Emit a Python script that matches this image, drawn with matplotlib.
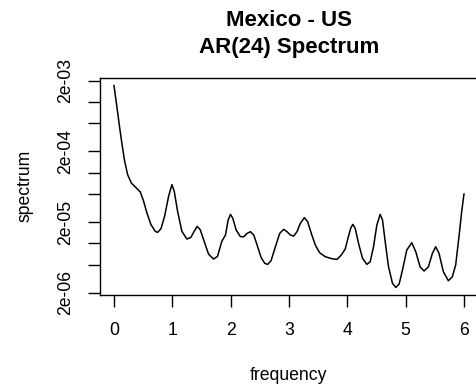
import numpy as np
import matplotlib
matplotlib.use("Agg")
import matplotlib.pyplot as plt

plt.rcParams['font.family'] = ['Liberation Sans', 'DejaVu Sans']

# AR(24) spectrum
freq = [0.000, 0.052, 0.098, 0.138, 0.183, 0.234, 0.297, 0.366, 0.451, 0.508,
        0.565, 0.634, 0.708, 0.748, 0.805, 0.867, 0.936, 0.993, 1.033, 1.090,
        1.164, 1.250, 1.318, 1.381, 1.426, 1.478, 1.546, 1.620, 1.706, 1.774,
        1.848, 1.911, 1.957, 1.997, 2.037, 2.094, 2.168, 2.225, 2.282, 2.339,
        2.396, 2.453, 2.521, 2.584, 2.635, 2.692, 2.767, 2.841, 2.909, 2.966,
        3.023, 3.080, 3.137, 3.194, 3.263, 3.320, 3.382, 3.451, 3.525, 3.622,
        3.736, 3.822, 3.896, 3.964, 4.010, 4.061, 4.095, 4.135, 4.192, 4.261,
        4.335, 4.392, 4.449, 4.506, 4.563, 4.603, 4.649, 4.706, 4.774, 4.831,
        4.888, 4.945, 5.019, 5.105, 5.173, 5.247, 5.316, 5.390, 5.458, 5.515,
        5.572, 5.646, 5.732, 5.800, 5.857, 5.914, 5.960, 6.000]
spec = [1.70e-3, 8.21e-4, 4.28e-4, 2.49e-4, 1.445e-4, 9.36e-5, 7.13e-5, 6.26e-5, 5.32e-5, 3.93e-5,
        2.68e-5, 1.835e-5, 1.477e-5, 1.429e-5, 1.611e-5, 2.41e-5, 4.62e-5, 6.76e-5, 5.44e-5, 2.835e-5,
        1.477e-5, 1.150e-5, 1.215e-5, 1.510e-5, 1.738e-5, 1.560e-5, 1.066e-5, 7.06e-6, 5.99e-6, 6.54e-6,
        1.066e-5, 1.311e-5, 2.137e-5, 2.57e-5, 2.256e-5, 1.543e-5, 1.241e-5, 1.241e-5, 1.384e-5, 1.461e-5,
        1.311e-5, 9.46e-6, 6.33e-6, 5.21e-6, 5.04e-6, 5.68e-6, 8.96e-6, 1.384e-5, 1.576e-5, 1.461e-5,
        1.311e-5, 1.268e-5, 1.461e-5, 1.917e-5, 2.306e-5, 2.024e-5, 1.384e-5, 9.46e-6, 7.37e-6, 6.47e-6,
        6.06e-6, 5.93e-6, 6.83e-6, 8.31e-6, 1.176e-5, 1.665e-5, 1.855e-5, 1.628e-5, 9.99e-6, 6.13e-6,
        5.04e-6, 5.50e-6, 8.96e-6, 1.815e-5, 2.57e-5, 2.137e-5, 1.055e-5, 4.67e-6, 2.714e-6, 2.381e-6,
        2.655e-6, 4.19e-6, 8.04e-6, 1.021e-5, 7.61e-6, 4.67e-6, 4.06e-6, 4.67e-6, 7.21e-6, 8.96e-6,
        7.21e-6, 3.97e-6, 2.96e-6, 3.37e-6, 4.93e-6, 1.241e-5, 2.80e-5, 4.99e-5]

xticks = [0, 1, 2, 3, 4, 5, 6]
yticks = [2e-3, 1e-3, 5e-4, 2e-4, 1e-4, 5e-5, 2e-5, 1e-5, 5e-6, 2e-6]
ylabels = ['2e-03', '', '', '2e-04', '', '', '2e-05', '', '', '2e-06']

W, H = 477, 391
fig = plt.figure(figsize=(W / 100, H / 100), dpi=100)
ax = fig.add_axes([100 / W, (H - 295) / H, 378 / W, 217.3 / H])

ax.plot(freq, spec, color='black', linewidth=1.1, solid_joinstyle='round')
ax.set_yscale('log')
ax.set_xlim(-0.24, 6.24)
ax.set_ylim(1.86e-6, 2.2e-3)

ax.set_xticks(xticks)
ax.set_xticklabels([str(t) for t in xticks])
ax.yaxis.set_minor_locator(matplotlib.ticker.NullLocator())
ax.set_yticks(yticks)
ax.set_yticklabels(ylabels, rotation=90, va='center')

ax.tick_params(axis='both', direction='out', length=8.5, width=1.0,
               labelsize=12.7, color='black')
ax.tick_params(axis='x', pad=11)
ax.tick_params(axis='y', pad=10)
for s in ax.spines.values():
    s.set_linewidth(1.0)

fig.text(289 / W, 1 - 21 / H, 'Mexico - US', ha='center', va='center',
         fontsize=16, fontweight='bold')
fig.text(289 / W, 1 - 48 / H, 'AR(24) Spectrum', ha='center', va='center',
         fontsize=16, fontweight='bold')
fig.text(289 / W, 1 - 375 / H, 'frequency', ha='center', va='center', fontsize=12.7)
fig.text(25 / W, 1 - 186 / H, 'spectrum', ha='center', va='center',
         fontsize=12.7, rotation=90)

fig.savefig('out.png', dpi=100)
